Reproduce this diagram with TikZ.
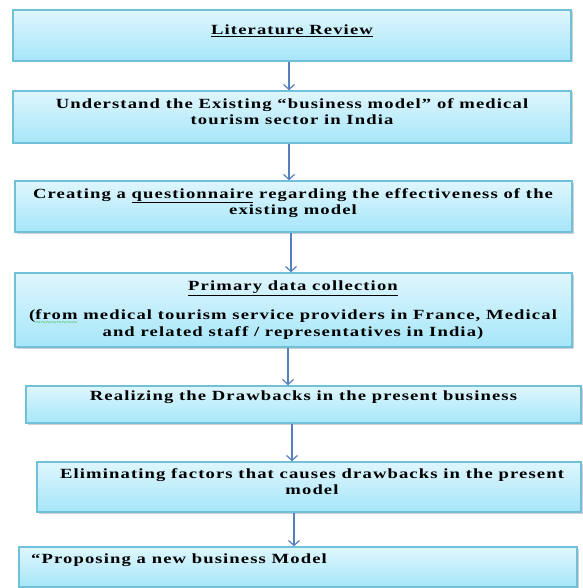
\documentclass[tikz,border=0pt]{standalone}
\usepackage{fontspec}
\setmainfont{Liberation Serif}
\newfontfamily\boxfont{Liberation Serif}[LetterSpace=8,FakeStretch=1.33]
\usepackage{tikz}
\usetikzlibrary{arrows.meta,shadows}
\definecolor{boxtop}{RGB}{223,246,253}
\definecolor{boxbottom}{RGB}{166,230,249}
\definecolor{boxline}{RGB}{112,192,215}
\definecolor{flowblue}{RGB}{84,128,192}
\definecolor{spellgreen}{RGB}{40,170,40}
% green wavy mark of the spell checker
\newcommand{\spellwave}[1]{\leavevmode\setbox0\hbox{#1}%
  \rlap{\raisebox{-6pt}{\hbox to\wd0{\color{spellgreen}\normalfont\fontsize{9}{9}\selectfont\xleaders\hbox{\textasciitilde}\hfill}}}#1}

\begin{document}
\begin{tikzpicture}[
  x=1pt,y=-1pt,
  stepbox/.style={draw=boxline,line width=1.5pt,top color=boxtop,bottom color=boxbottom,
    drop shadow={shadow xshift=1.5pt,shadow yshift=-1.5pt,fill=black!30,opacity=0.6},
    inner sep=0pt},
  steptext/.style={align=center,inner sep=0pt,font=\boxfont\bfseries\fontsize{14}{16.5}\selectfont},
  flow/.style={-{Straight Barb[length=5pt,width=11pt]},line width=1.2pt,flowblue}
]
  \useasboundingbox (0,0) rectangle (582,588);

  % boxes
  \node[stepbox,minimum width=558pt,minimum height=51pt] (b1) at (292,35.5) {};
  \node[stepbox,minimum width=558pt,minimum height=52pt] (b2) at (292,117) {};
  \node[stepbox,minimum width=557pt,minimum height=51pt] (b3) at (293.5,206.5) {};
  \node[stepbox,minimum width=557pt,minimum height=74pt] (b4) at (293.5,310) {};
  \node[stepbox,minimum width=555pt,minimum height=37pt] (b5) at (303.5,404.5) {};
  \node[stepbox,minimum width=544pt,minimum height=50pt] (b6) at (309,487) {};
  \node[stepbox,minimum width=558pt,minimum height=40pt] (b7) at (298,567) {};

  % texts
  \node[steptext] (t1) at (292,31) {\underline{Literature Review}};
  \node[steptext] (t2) at (292,111.5) {Understand the Existing “business model” of medical\\tourism sector in India};
  \node[steptext] (t3) at (293,203) {Creating a \underline{questionnaire} regarding the effectiveness of the\\existing model};
  \node[steptext] (t4) at (293,310) {\underline{Primary data collection}\\[13pt]
    (\spellwave{from} medical tourism service providers in France, Medical\\and related staff / representatives in India)};
  \node[steptext] (t5) at (303.5,397) {Realizing the Drawbacks in the present business};
  \node[steptext] (t6) at (312,481.5) {Eliminating factors that causes drawbacks in the present\\model};
  \node[steptext,anchor=west] (t7) at (31,560) {“Proposing a new business Model};

  % arrows
  \draw[flow] ([xshift=-3pt]b1.south) -- ([xshift=-3pt]b1.south |- b2.north);
  \draw[flow] ([xshift=-3pt]b2.south) -- ([xshift=-3pt]b2.south |- b3.north);
  \draw[flow] ([xshift=-2.5pt]b3.south) -- ([xshift=-2.5pt]b3.south |- b4.north);
  \draw[flow] ([xshift=-5.5pt]b4.south) -- ([xshift=-5.5pt]b4.south |- b5.north);
  \draw[flow] ([xshift=-11.5pt]b5.south) -- ([xshift=-11.5pt]b5.south |- b6.north);
  \draw[flow] ([xshift=-15pt]b6.south) -- ([xshift=-15pt]b6.south |- b7.north);
\end{tikzpicture}
\end{document}
